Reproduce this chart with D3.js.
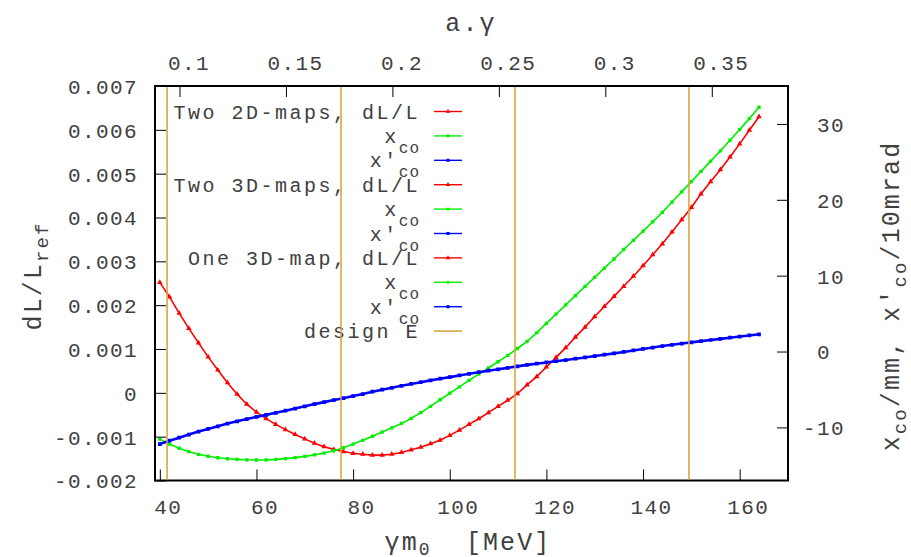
<!DOCTYPE html>
<html><head><meta charset="utf-8">
<script src="https://cdn.jsdelivr.net/npm/d3@7"></script>
<style>
body{margin:0;background:#fff;}
svg{display:block;}
text{font-family:"Liberation Mono","DejaVu Sans Mono",monospace;fill:#404040;}
</style></head><body>
<svg id="c" width="911" height="557"></svg>
<script>
// ---- data ----
const energy = [40,42,44,46,48,50,52,54,56,58,60,62,64,66,68,70,72,74,76,78,80,82,84,86,88,90,92,94,96,98,100,102,104,106,108,110,112,114,116,118,120,122,124,126,128,130,132,134,136,138,140,142,144,146,148,150,152,154,156,158,160,162,164];
const dLL = [0.00252,0.00219,0.00182,0.00147,0.00114,0.00082,0.00052,0.00023,-0.00003,-0.00026,-0.00044,-0.00059,-0.00072,-0.00084,-0.00095,-0.00105,-0.00115,-0.00123,-0.00129,-0.00134,-0.00138,-0.00140,-0.00142,-0.00142,-0.00140,-0.00136,-0.00130,-0.00124,-0.00116,-0.00108,-0.00097,-0.00085,-0.00072,-0.00059,-0.00045,-0.00031,-0.00017,-0.00002,0.00018,0.00037,0.00059,0.00081,0.00103,0.00127,0.00150,0.00174,0.00197,0.00220,0.00243,0.00266,0.00290,0.00315,0.00340,0.00367,0.00395,0.00423,0.00454,0.00482,0.00509,0.00538,0.00568,0.00599,0.00630];
const xco = [-11.55,-12.2,-12.75,-13.2,-13.55,-13.8,-14.0,-14.13,-14.22,-14.27,-14.3,-14.28,-14.22,-14.12,-13.98,-13.82,-13.62,-13.38,-13.08,-12.68,-12.2,-11.7,-11.17,-10.62,-10.06,-9.48,-8.82,-8.06,-7.22,-6.36,-5.5,-4.65,-3.8,-2.98,-2.17,-1.35,-0.5,0.4,1.35,2.45,3.71,4.93,6.14,7.36,8.58,9.78,11.0,12.2,13.45,14.65,15.88,17.1,18.35,19.7,21.05,22.4,23.75,25.1,26.45,27.85,29.25,30.7,32.2];
const xpco = [-12.2,-11.75,-11.35,-10.95,-10.55,-10.2,-9.85,-9.5,-9.2,-8.9,-8.62,-8.35,-8.08,-7.8,-7.52,-7.22,-6.93,-6.67,-6.4,-6.15,-5.87,-5.6,-5.3,-5.03,-4.78,-4.52,-4.27,-4.04,-3.8,-3.58,-3.37,-3.15,-2.94,-2.73,-2.53,-2.34,-2.15,-1.96,-1.76,-1.6,-1.44,-1.28,-1.12,-0.95,-0.78,-0.6,-0.42,-0.24,-0.06,0.14,0.34,0.53,0.72,0.89,1.05,1.21,1.37,1.52,1.67,1.82,1.97,2.12,2.27];
const designE = [41.5, 77.5, 113.5, 149.5];
const xTicks = [40,60,80,100,120,140,160];
const x2Ticks = [0.1,0.15,0.2,0.25,0.3,0.35];
const yTicks = [-0.002,-0.001,0,0.001,0.002,0.003,0.004,0.005,0.006,0.007];
const y2Ticks = [-10,0,10,20,30];
const methods = ["Two 2D-maps,","Two 3D-maps,","One 3D-map,"];
const aOverM = 0.00115965/0.51099895; // a.gamma per MeV

// ---- layout ----
const L=155, R=788, T=86, B=480.5;
const svg = d3.select("#c");
const x = d3.scaleLinear().domain([39,170]).range([L,R]);
const x2 = d3.scaleLinear().domain([39*aOverM,170*aOverM]).range([L,R]);
const yL = d3.scaleLinear().domain([-0.002,0.007]).range([B,T]);
const yR = d3.scaleLinear().domain([-17,35]).range([B,T]);

const colors = {dLL:"#ff0000", xco:"#00f000", xpco:"#0000ff"};
const gold = "#daa030";

const rows = energy.map((e,i)=>({e, d:dLL[i], xc:xco[i], xp:xpco[i]}));

svg.append("clipPath").attr("id","pc").append("rect").attr("x",L).attr("y",T).attr("width",R-L).attr("height",B-T);
const plot = svg.append("g").attr("clip-path","url(#pc)");

const series = [
  {key:"dLL", acc:d=>yL(d.d), sym:d3.symbolTriangle, size:13},
  {key:"xco", acc:d=>yR(d.xc), sym:d3.symbolSquare, size:11},
  {key:"xpco", acc:d=>yR(d.xp), sym:d3.symbolSquare, size:14}
];
series.forEach(s=>{
  const g = plot.append("g");
  g.append("path").datum(rows)
    .attr("d", d3.line().x(d=>x(d.e)).y(s.acc))
    .attr("fill","none").attr("stroke",colors[s.key]).attr("stroke-width", s.key==="xpco"?2.6:1.6);
  g.selectAll("path.m").data(rows).join("path").attr("class","m")
    .attr("d", d3.symbol(s.sym, s.size))
    .attr("transform", d=>`translate(${x(d.e)},${s.acc(d)})`)
    .attr("fill", colors[s.key]);
});

// ---- axes ----
const fs = "21px", ls = "1.4px";
const axB = svg.append("g").attr("transform",`translate(0,${B})`)
  .call(d3.axisBottom(x).tickValues(xTicks).tickSize(-11).tickSizeOuter(0).tickPadding(0));
axB.selectAll("text").attr("y",26).attr("dy","0.35em").attr("dx",8);
const axT = svg.append("g").attr("transform",`translate(0,${T})`)
  .call(d3.axisTop(x2).tickValues(x2Ticks).tickSize(-11).tickSizeOuter(0).tickPadding(0).tickFormat(d=>String(+d.toFixed(2))));
axT.selectAll("text").attr("y",-23).attr("dy","0.35em").attr("dx",9);
const axL = svg.append("g").attr("transform",`translate(${L},0)`)
  .call(d3.axisLeft(yL).tickValues(yTicks).tickSize(-11).tickSizeOuter(0).tickPadding(17)
    .tickFormat(d=>Math.abs(d)<1e-12?"0":d.toFixed(3)));
axL.selectAll("text").attr("dy","0.35em");
const axR = svg.append("g").attr("transform",`translate(${R},0)`)
  .call(d3.axisRight(yR).tickValues(y2Ticks).tickSize(-11).tickSizeOuter(0).tickPadding(0)
    .tickFormat(d=>String(d)));
axR.selectAll("text").attr("dy","0.35em").attr("x",d=>d>=0?29:15).attr("text-anchor","start");
[axB,axT,axL,axR].forEach(a=>{
  a.select(".domain").remove();
  a.selectAll("line").attr("stroke","#000").attr("stroke-width",1);
  a.selectAll("text").style("font-size",fs).style("letter-spacing",ls).attr("fill","#404040");
  a.attr("font-family",null).attr("font-size",null);
});

// border
svg.append("rect").attr("x",L).attr("y",T).attr("width",R-L).attr("height",B-T)
  .attr("fill","none").attr("stroke","#000").attr("stroke-width",2);

// axis titles
const tfs = "25px", tls="2.1px";
svg.append("text").attr("x",471).attr("y",31).attr("text-anchor","middle")
  .style("font-size",tfs).style("letter-spacing",tls).text("a.γ");
const bt = svg.append("text").attr("x",468).attr("y",550).attr("text-anchor","middle")
  .attr("xml:space","preserve").style("font-size",tfs).style("letter-spacing",tls);
bt.append("tspan").text("γm");
bt.append("tspan").attr("dy",5).style("font-size","18px").text("0");
bt.append("tspan").attr("dy",-5).text("  [MeV]");

const lt = svg.append("text").attr("transform","translate(41,276) rotate(-90)").attr("text-anchor","middle")
  .style("font-size",tfs).style("letter-spacing",tls);
lt.append("tspan").text("dL/L");
lt.append("tspan").attr("dy",7).style("font-size","19px").text("ref");

const rt = svg.append("text").attr("transform","translate(899,296) rotate(-90)").attr("text-anchor","middle")
  .style("font-size",tfs).style("letter-spacing",tls);
rt.append("tspan").text("x");
rt.append("tspan").attr("dy",7).style("font-size","19px").text("co");
rt.append("tspan").attr("dy",-7).text("/mm, x′");
rt.append("tspan").attr("dy",7).style("font-size","19px").text("co");
rt.append("tspan").attr("dy",-7).text("/10mrad");

// ---- legend ----
const legItems = [];
methods.forEach(m=>{
  legItems.push({main:m+" dL/L", sub:null, key:"dLL"});
  legItems.push({main:"x", sub:"co", key:"xco"});
  legItems.push({main:"x′", sub:"co", key:"xpco"});
});
legItems.push({main:"design E", sub:null, key:"design"});
const leg = svg.append("g");
legItems.forEach((it,i)=>{
  const yb = 118.5 + i*24.4;
  const t = leg.append("text").attr("x",420).attr("y",yb).attr("text-anchor","end")
    .style("font-size","20px").style("letter-spacing","2.5px");
  t.append("tspan").text(it.main);
  if(it.sub) t.append("tspan").attr("dy",10).style("font-size","16px").style("letter-spacing","1px").text(it.sub);
  const col = it.key==="design"?gold:colors[it.key];
  const ly = yb-7;
  leg.append("line").attr("x1",434).attr("x2",462).attr("y1",ly).attr("y2",ly)
    .attr("stroke",col).attr("stroke-width",it.key==="design"?1.5:1.4);
  if(it.key!=="design"){
    const s = series.find(s=>s.key===it.key);
    leg.append("path").attr("d",d3.symbol(s.sym,s.size*0.7)).attr("transform",`translate(448,${ly})`).attr("fill",col);
  }
});

// design E lines, drawn on top as in the reference
svg.append("g").selectAll("line").data(designE).join("line")
  .attr("x1",d=>x(d)).attr("x2",d=>x(d)).attr("y1",T+1).attr("y2",B-1)
  .attr("stroke",gold).attr("stroke-width",1.5);
</script>
</body></html>
